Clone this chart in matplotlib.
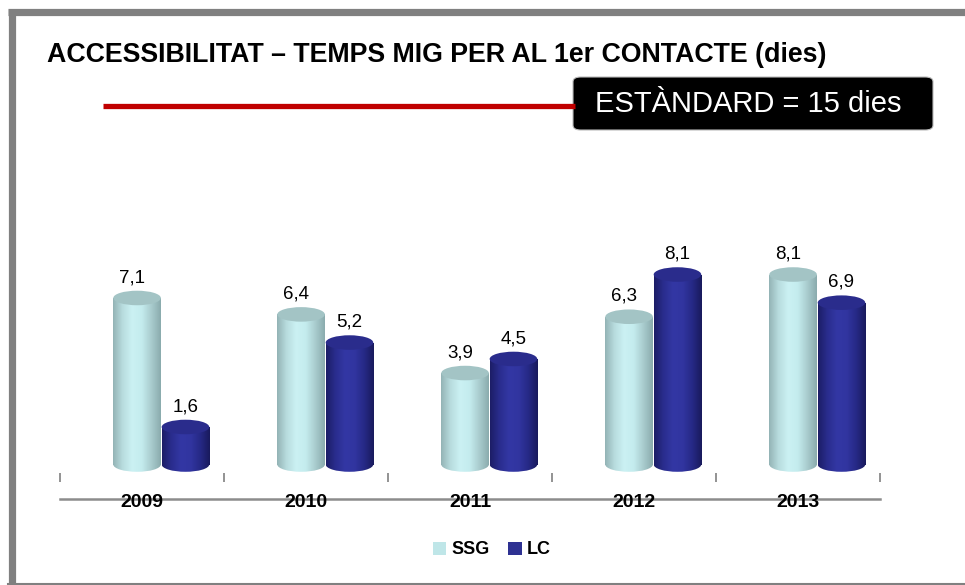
import matplotlib
matplotlib.use('Agg')
import matplotlib.pyplot as plt
import numpy as np
from matplotlib.patches import Ellipse, FancyBboxPatch, Patch
from matplotlib.colors import LinearSegmentedColormap
from matplotlib.lines import Line2D

plt.rcParams['font.family'] = ['Liberation Sans', 'DejaVu Sans']

# data
years = ['2009', '2010', '2011', '2012', '2013']
ssg = [7.1, 6.4, 3.9, 6.3, 8.1]
lc = [1.6, 5.2, 4.5, 8.1, 6.9]
series_names = ['SSG', 'LC']
title = 'ACCESSIBILITAT \u2013 TEMPS MIG PER AL 1er CONTACTE (dies)'
standard_label = 'EST\u00c0NDARD = 15 dies'

W, H = 965, 585
BAR_W = 0.29
ELL_H = 0.62
SSG_CMAP = LinearSegmentedColormap.from_list(
    'ssg', ['#93B3B5', '#B8DCDE', '#CBF1F3', '#C4ECEE', '#A9CCCE', '#8AABAD'])
LC_CMAP = LinearSegmentedColormap.from_list(
    'lc', ['#1C1D66', '#2A2D8E', '#3337A4', '#3135A0', '#262986', '#191A5C'])
SSG_TOP = '#A3C4C5'
LC_TOP = '#2A2C8C'


def px(x, y):
    # pixel (from top-left) -> figure fraction
    return x / W, 1 - y / H


def fig_line(x0, y0, x1, y1, **kw):
    (a, b), (c, d) = px(x0, y0), px(x1, y1)
    fig.add_artist(Line2D([a, c], [b, d], transform=fig.transFigure, **kw))


def cylinder(ax, xc, val, cmap, top_color, z):
    x0, x1 = xc - BAR_W / 2, xc + BAR_W / 2
    grad = np.linspace(0, 1, 256).reshape(1, -1)
    body = ax.bar(xc, val, BAR_W, color='none', edgecolor='none', zorder=z)[0]
    im = ax.imshow(grad, cmap=cmap, extent=[x0, x1, -ELL_H, val], aspect='auto',
                   zorder=z, interpolation='bilinear')
    im.set_clip_path(body)
    bottom = Ellipse((xc, 0), BAR_W, ELL_H, facecolor='none', edgecolor='none', zorder=z)
    ax.add_patch(bottom)
    im2 = ax.imshow(grad, cmap=cmap, extent=[x0, x1, -ELL_H, val], aspect='auto',
                    zorder=z, interpolation='bilinear')
    im2.set_clip_path(bottom)
    ax.add_patch(Ellipse((xc, val), BAR_W, ELL_H, facecolor=top_color,
                         edgecolor='none', zorder=z + 0.5))


fig = plt.figure(figsize=(W / 100, H / 100), dpi=100)

# outer frame: thick top and left, thin bottom, open right
fig_line(8, 11.5, W, 11.5, color='#808080', linewidth=5.2, solid_capstyle='butt')
fig_line(11.5, 9, 11.5, 583, color='#808080', linewidth=5.2, solid_capstyle='butt')
fig_line(8, 583.5, W, 583.5, color='#808080', linewidth=1.5)

ax = fig.add_axes([60 / W, 1 - 499 / H, 820 / W, 399 / H])
n = len(years)
x = np.arange(n)
ax.set_xlim(-0.5, n - 0.5)
ax.set_ylim(-1.47, 15.54)

for i in range(n):
    cylinder(ax, x[i] - 0.03, ssg[i], SSG_CMAP, SSG_TOP, 3)
    cylinder(ax, x[i] + 0.265, lc[i], LC_CMAP, LC_TOP, 4)
    ax.text(x[i] - 0.06, ssg[i] + ELL_H / 2 + 0.2, f'{ssg[i]:.1f}'.replace('.', ','),
            ha='center', va='bottom', fontsize=13.5, zorder=6)
    ax.text(x[i] + 0.265, lc[i] + ELL_H / 2 + 0.2, f'{lc[i]:.1f}'.replace('.', ','),
            ha='center', va='bottom', fontsize=13.5, zorder=6)
    ax.text(x[i], -1.62, years[i], ha='center', va='center', fontsize=14,
            fontweight='bold', clip_on=False, zorder=8)

ax.vlines(np.arange(-0.5, n), -0.75, -0.38, color='#808080', linewidth=1.2, clip_on=False)

for s in ['top', 'right', 'left']:
    ax.spines[s].set_visible(False)
ax.spines['bottom'].set_color('#8C8C8C')
ax.spines['bottom'].set_linewidth(1.8)
ax.spines['bottom'].set_zorder(2)
ax.set_xticks([])
ax.set_yticks([])
ax.patch.set_alpha(0)

# title
fig.text(*px(47, 55), title, fontsize=19.3, fontweight='bold', ha='left', va='center')

# standard line and box
fig_line(103, 105.5, 575, 105.5, color='#C00000', linewidth=3.8, solid_capstyle='butt')
bx, by = px(573, 130)
fig.add_artist(FancyBboxPatch((bx, by), 360 / W, 53 / H,
                              boxstyle='round,pad=0,rounding_size=0.008',
                              transform=fig.transFigure, facecolor='black',
                              edgecolor='#BBBBBB', linewidth=0.8))
fig.text(*px(748, 104), standard_label, color='white', fontsize=21,
         ha='center', va='center')

handles = [Patch(facecolor='#BFE6E8', edgecolor='none'),
           Patch(facecolor='#2E3192', edgecolor='none')]
fig.legend(handles, series_names, loc='center', bbox_to_anchor=px(492, 550),
           ncol=2, frameon=False, prop={'size': 13, 'weight': 'bold'},
           handlelength=0.75, handleheight=0.75, handletextpad=0.3, columnspacing=1.0)

fig.savefig('out.png', dpi=100)
